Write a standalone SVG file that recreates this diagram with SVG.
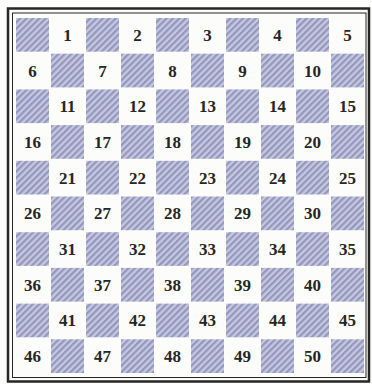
<svg xmlns="http://www.w3.org/2000/svg" xmlns:xlink="http://www.w3.org/1999/xlink" width="372" height="384" viewBox="0 0 372 384">
<style>
.dk{fill:url(#hatch)}
.n{font-family:"Liberation Serif","DejaVu Serif",serif;font-weight:bold;font-size:17px;fill:#262626;text-anchor:middle}
.frame{fill:none;stroke:#262626}
</style>
<defs>
<pattern id="hatch" patternUnits="userSpaceOnUse" width="4.5" height="4.5" patternTransform="rotate(45)">
<rect width="4.5" height="4.5" fill="#c6c8de"/>
<rect width="2.2" height="4.5" fill="#9397bf"/>
</pattern>
<g id="rowA"><rect class="dk" x="16" width="33" height="33.7"/><rect class="dk" x="86" width="33" height="33.7"/><rect class="dk" x="156" width="33" height="33.7"/><rect class="dk" x="226" width="33" height="33.7"/><rect class="dk" x="296" width="33" height="33.7"/></g>
<g id="rowB"><rect class="dk" x="51" width="33" height="33.7"/><rect class="dk" x="121" width="33" height="33.7"/><rect class="dk" x="191" width="33" height="33.7"/><rect class="dk" x="261" width="33" height="33.7"/><rect class="dk" x="331" width="33" height="33.7"/></g>
</defs>
<rect width="372" height="384" fill="#fcfcfa"/>
<g id="frame">
<rect class="frame" x="8" y="8.5" width="361" height="373" stroke-width="2.5"/>
<rect class="frame" x="12.5" y="13" width="353.5" height="364.5" stroke-width="1" stroke="#666"/>
</g>
<g id="squares">
<use xlink:href="#rowA" y="18"/>
<use xlink:href="#rowB" y="53.7"/>
<use xlink:href="#rowA" y="89.4"/>
<use xlink:href="#rowB" y="125.1"/>
<use xlink:href="#rowA" y="160.8"/>
<use xlink:href="#rowB" y="196.5"/>
<use xlink:href="#rowA" y="232.2"/>
<use xlink:href="#rowB" y="267.9"/>
<use xlink:href="#rowA" y="303.6"/>
<use xlink:href="#rowB" y="339.3"/>
</g>
<g id="numbers">
<text class="n" x="67.5" y="40.85">1</text><text class="n" x="137.5" y="40.85">2</text><text class="n" x="207.5" y="40.85">3</text><text class="n" x="277.5" y="40.85">4</text><text class="n" x="347.5" y="40.85">5</text>
<text class="n" x="32.5" y="76.55">6</text><text class="n" x="102.5" y="76.55">7</text><text class="n" x="172.5" y="76.55">8</text><text class="n" x="242.5" y="76.55">9</text><text class="n" x="312.5" y="76.55">10</text>
<text class="n" x="67.5" y="112.25">11</text><text class="n" x="137.5" y="112.25">12</text><text class="n" x="207.5" y="112.25">13</text><text class="n" x="277.5" y="112.25">14</text><text class="n" x="347.5" y="112.25">15</text>
<text class="n" x="32.5" y="147.95">16</text><text class="n" x="102.5" y="147.95">17</text><text class="n" x="172.5" y="147.95">18</text><text class="n" x="242.5" y="147.95">19</text><text class="n" x="312.5" y="147.95">20</text>
<text class="n" x="67.5" y="183.65">21</text><text class="n" x="137.5" y="183.65">22</text><text class="n" x="207.5" y="183.65">23</text><text class="n" x="277.5" y="183.65">24</text><text class="n" x="347.5" y="183.65">25</text>
<text class="n" x="32.5" y="219.35">26</text><text class="n" x="102.5" y="219.35">27</text><text class="n" x="172.5" y="219.35">28</text><text class="n" x="242.5" y="219.35">29</text><text class="n" x="312.5" y="219.35">30</text>
<text class="n" x="67.5" y="255.05">31</text><text class="n" x="137.5" y="255.05">32</text><text class="n" x="207.5" y="255.05">33</text><text class="n" x="277.5" y="255.05">34</text><text class="n" x="347.5" y="255.05">35</text>
<text class="n" x="32.5" y="290.75">36</text><text class="n" x="102.5" y="290.75">37</text><text class="n" x="172.5" y="290.75">38</text><text class="n" x="242.5" y="290.75">39</text><text class="n" x="312.5" y="290.75">40</text>
<text class="n" x="67.5" y="326.45">41</text><text class="n" x="137.5" y="326.45">42</text><text class="n" x="207.5" y="326.45">43</text><text class="n" x="277.5" y="326.45">44</text><text class="n" x="347.5" y="326.45">45</text>
<text class="n" x="32.5" y="362.15">46</text><text class="n" x="102.5" y="362.15">47</text><text class="n" x="172.5" y="362.15">48</text><text class="n" x="242.5" y="362.15">49</text><text class="n" x="312.5" y="362.15">50</text>
</g>
</svg>
